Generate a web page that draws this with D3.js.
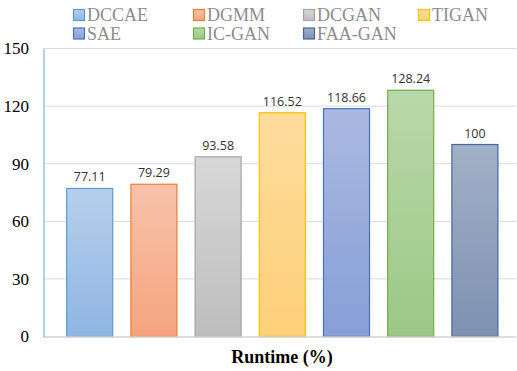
<!DOCTYPE html>
<html>
<head>
<meta charset="utf-8">
<script src="https://cdn.jsdelivr.net/npm/d3@7"></script>
<style>
  html, body { margin: 0; padding: 0; background: #fff; }
  svg { display: block; }
</style>
</head>
<body>
<svg id="chart" width="517" height="371"></svg>
<script>
// Runtime of each method, relative to FAA-GAN (= 100 %)
const methods = ["DCCAE", "DGMM", "DCGAN", "TIGAN", "SAE", "IC-GAN", "FAA-GAN"];
const runtime = [77.11, 79.29, 93.58, 116.52, 118.66, 128.24, 100];
const yTicks = [0, 30, 60, 90, 120, 150];
const valueLabels = ["77.11", "79.29", "93.58", "116.52", "118.66", "128.24", "100"];
const axisTitle = "Runtime (%)";

// Per-method colours: [top of gradient, bottom of gradient, outline]
const palette = [
  ["#b7cfec", "#8fb5e2", "#5b9bd5"],
  ["#f8c2aa", "#f4a47e", "#ed7d31"],
  ["#d8d8d8", "#bdbdbd", "#a5a5a5"],
  ["#fedc9c", "#fdd078", "#ffc000"],
  ["#aab9e1", "#879fd7", "#4472c4"],
  ["#b9d8aa", "#9cc886", "#70ad47"],
  ["#a3b1c7", "#7d91b1", "#44689a"]
];

const SERIF = "Liberation Serif";
const SANS = "Open Sans";

const svg = d3.select("#chart");
const defs = svg.append("defs");
palette.forEach((c, i) => {
  const g = defs.append("linearGradient")
    .attr("id", "grad" + i)
    .attr("x1", 0).attr("y1", 0).attr("x2", 0).attr("y2", 1);
  g.append("stop").attr("offset", "0%").attr("stop-color", c[0]);
  g.append("stop").attr("offset", "100%").attr("stop-color", c[1]);
});

const plotLeft = 44, plotRight = 516;
const y = d3.scaleLinear().domain([0, 150]).range([336.5, 48.5]);
const x = d3.scaleBand().domain(methods).range([57.6, 507])
  .paddingInner(0.283).paddingOuter(0.1415);

// Horizontal gridlines
svg.append("g").selectAll("line")
  .data(yTicks.filter(t => t > 0))
  .join("line")
  .attr("x1", plotLeft).attr("x2", plotRight)
  .attr("y1", d => y(d)).attr("y2", d => y(d))
  .attr("stroke", "#d9d9d9").attr("stroke-width", 1);

// Y axis tick labels
const yAxis = d3.axisLeft(y).tickValues(yTicks).tickSize(0).tickPadding(0);
const yG = svg.append("g").attr("transform", `translate(${plotLeft - 15},0)`).call(yAxis);
yG.attr("font-family", SERIF).attr("font-size", 17);
yG.select(".domain").remove();
yG.selectAll("text").attr("fill", "#000");

// Bars
svg.append("g").selectAll("rect")
  .data(methods)
  .join("rect")
  .attr("x", d => x(d))
  .attr("width", x.bandwidth())
  .attr("y", (d, i) => y(runtime[i]))
  .attr("height", (d, i) => y(0) - y(runtime[i]))
  .attr("fill", (d, i) => `url(#grad${i})`)
  .attr("stroke", (d, i) => palette[i][2])
  .attr("stroke-width", 1.2);

// Value labels
svg.append("g").selectAll("text")
  .data(methods)
  .join("text")
  .attr("font-family", SANS)
  .attr("font-size", 12.5)
  .attr("x", d => x(d) + x.bandwidth() / 2)
  .attr("y", (d, i) => y(runtime[i]) - 7)
  .attr("text-anchor", "middle")
  .attr("fill", "#333")
  .text((d, i) => valueLabels[i]);

// Baseline and left axis line
svg.append("line")
  .attr("x1", plotLeft).attr("x2", plotRight)
  .attr("y1", y(0) + 0.5).attr("y2", y(0) + 0.5)
  .attr("stroke", "#d0d0d0").attr("stroke-width", 1.5);
svg.append("line")
  .attr("x1", plotLeft).attr("x2", plotLeft)
  .attr("y1", y(150)).attr("y2", y(0) + 1)
  .attr("stroke", "#7fb0de").attr("stroke-width", 1.2);

// X axis title
svg.append("text")
  .attr("font-family", SERIF)
  .attr("font-weight", "bold")
  .attr("font-size", 18)
  .attr("x", 282).attr("y", 363)
  .attr("text-anchor", "middle")
  .attr("fill", "#000")
  .text(axisTitle);

// Legend (two rows)
const legendCols = [73, 193, 303, 418];
const legendRows = [15, 33.5];
const legend = svg.append("g").selectAll("g")
  .data(methods)
  .join("g")
  .attr("transform", (d, i) => `translate(${legendCols[i % 4]},${legendRows[Math.floor(i / 4)]})`);
legend.append("rect")
  .attr("x", 0.5).attr("y", -5.5)
  .attr("width", 11).attr("height", 11)
  .attr("fill", (d, i) => `url(#grad${i})`)
  .attr("stroke", (d, i) => palette[i][2])
  .attr("stroke-width", 1.2);
legend.append("text")
  .attr("font-family", SERIF)
  .attr("font-size", 18)
  .attr("x", 14).attr("y", 6)
  .attr("fill", "#8c8c8c")
  .text(d => d);
</script>
</body>
</html>
